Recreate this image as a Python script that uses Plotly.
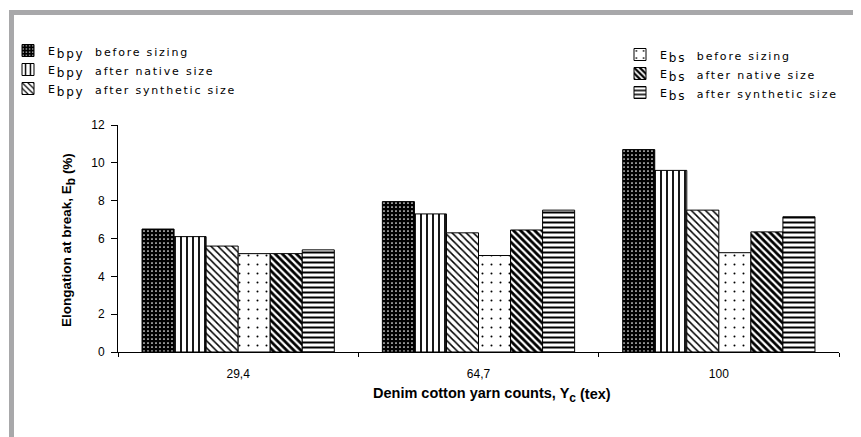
import plotly.graph_objects as go

categories = ["29,4", "64,7", "100"]
entry_subs = ["bpy", "bpy", "bpy", "bs", "bs", "bs"]
entry_texts = ["before sizing", "after native size", "after synthetic size",
               "before sizing", "after native size", "after synthetic size"]
ebpy_before = [6.5, 7.95, 10.7]
ebpy_native = [6.1, 7.3, 9.6]
ebpy_synthetic = [5.6, 6.3, 7.5]
ebs_before = [5.2, 5.1, 5.25]
ebs_native = [5.2, 6.45, 6.35]
ebs_synthetic = [5.4, 7.5, 7.15]
y_ticks = [0, 2, 4, 6, 8, 10, 12]
x_title = "<b>Denim cotton yarn counts, Y<sub style='font-size:12px !important'>c</sub> (tex)</b>"
y_title = "<b>Elongation at break, E<sub style='font-size:12px !important'>b</sub> (%)</b>"

values = [ebpy_before, ebpy_native, ebpy_synthetic, ebs_before, ebs_native, ebs_synthetic]
styles = [
    dict(color="black", shape=".", fg="white", size=4, sol=0.15),
    dict(color="white", shape="|", fg="black", size=6, sol=0.3),
    dict(color="white", shape="\\", fg="black", size=5, sol=0.3),
    dict(color="white", shape=".", fg="black", size=9, sol=0.04),
    dict(color="white", shape="\\", fg="black", size=5, sol=0.55),
    dict(color="white", shape="-", fg="black", size=5, sol=0.4),
]
legends = ["legend", "legend", "legend", "legend2", "legend2", "legend2"]

# page body has an 8px margin: figure is placed at (8, 8) in the window
OFF = 8
WIN_W, WIN_H = 861, 437
W, H = WIN_W - OFF, WIN_H - OFF
PL, PR, PT, PB = 118, 839, 125, 352  # plot area in window pixels
ML, MR, MT, MB = PL - OFF, WIN_W - PR, PT - OFF, WIN_H - PB
FONT = "Liberation Sans, Arial, sans-serif"
LFONT = "DejaVu Sans, Verdana, sans-serif"


def entry(sub, txt):
    return ("<span style='letter-spacing:1.8px'>E<sub style='font-size:12px !important'>"
            + sub + "</sub>\u00a0\u00a0" + txt + "</span>")


fig = go.Figure()
for sub, txt, vals, st, lg in zip(entry_subs, entry_texts, values, styles, legends):
    fig.add_trace(go.Bar(
        x=categories, y=vals, name=entry(sub, txt), legend=lg,
        marker=dict(color=st["color"], line=dict(color="black", width=1),
                    pattern=dict(shape=st["shape"], fgcolor=st["fg"], bgcolor=st["color"],
                                 size=st["size"], solidity=st["sol"], fillmode="replace")),
    ))


def px_x(p):
    return (p - PL) / (PR - PL)


def px_y(p):
    return (PB - p) / (PB - PT)


border = "#A8A8AA"
fig.add_shape(type="rect", xref="paper", yref="paper", x0=px_x(9), x1=px_x(WIN_W + 2),
              y0=px_y(15), y1=px_y(10), fillcolor=border, line_width=0, layer="below")
fig.add_shape(type="rect", xref="paper", yref="paper", x0=px_x(9), x1=px_x(14),
              y0=px_y(WIN_H + 2), y1=px_y(10), fillcolor=border, line_width=0, layer="below")

fig.add_annotation(text=x_title, xref="paper", yref="paper", x=px_x(492), y=px_y(395),
                   xanchor="center", yanchor="middle", showarrow=False,
                   font=dict(family=FONT, size=14.5, color="black"))
fig.add_annotation(text=y_title, xref="paper", yref="paper", x=px_x(68), y=px_y(240),
                   xanchor="center", yanchor="middle", showarrow=False, textangle=-90,
                   font=dict(family=FONT, size=13.5, color="black"))

legend_common = dict(font=dict(family=LFONT, size=11, color="black"), bgcolor="rgba(0,0,0,0)",
                     xref="container", yref="container", xanchor="left", yanchor="top",
                     traceorder="normal", itemwidth=30, tracegroupgap=0)
fig.update_layout(
    width=W, height=H,
    margin=dict(l=ML, r=MR, t=MT, b=MB, autoexpand=False),
    paper_bgcolor="white", plot_bgcolor="white",
    font=dict(family=FONT, size=12, color="black"),
    barmode="group", bargap=0.2, bargroupgap=0,
    legend=dict(x=0, y=1 - 28 / H, **legend_common),
    legend2=dict(x=612 / W, y=1 - 32 / H, **legend_common),
    xaxis=dict(showline=True, linecolor="black", linewidth=1, ticks="outside",
               tickson="boundaries", ticklen=4, tickcolor="black", showgrid=False,
               tickfont=dict(size=12), ticklabelstandoff=11),
    yaxis=dict(range=[0, 12], tickvals=y_ticks, showline=True, linecolor="black",
               linewidth=1, ticks="outside", ticklen=6, tickcolor="black",
               showgrid=False, zeroline=False, tickfont=dict(size=12), ticklabelstandoff=4),
)

fig.write_html("out.html")
